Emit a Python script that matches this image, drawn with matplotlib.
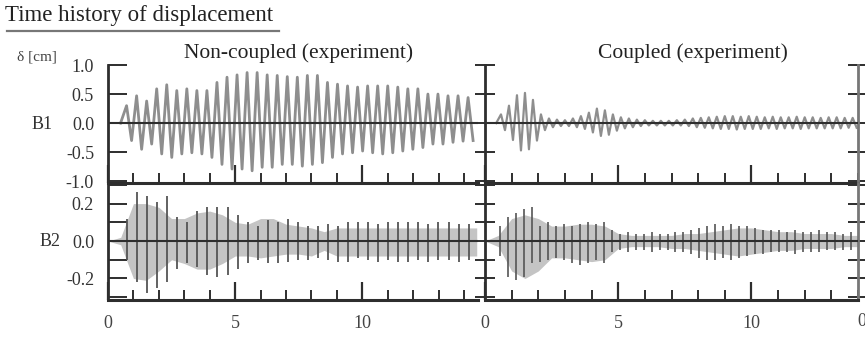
import matplotlib
matplotlib.use("Agg")
import matplotlib.pyplot as plt
from matplotlib.lines import Line2D
import numpy as np

plt.rcParams["font.family"] = ["Liberation Serif", "DejaVu Serif"]
plt.rcParams["axes.unicode_minus"] = False

# ---- data ----
# B1 non-coupled: positive / negative peak amplitude of each cycle (cm)
b1_nc_start = 0.73      # time of first positive peak (s)
b1_nc_period = 0.395
b1_nc_pos = [0.30, 0.47, 0.38, 0.59, 0.66, 0.56, 0.59, 0.56, 0.56, 0.70, 0.79, 0.83,
             0.87, 0.87, 0.83, 0.82, 0.80, 0.79, 0.82, 0.82, 0.70, 0.67, 0.64, 0.62,
             0.64, 0.64, 0.64, 0.62, 0.59, 0.59, 0.50, 0.50, 0.47, 0.47, 0.44]
b1_nc_neg = [0.30, 0.45, 0.36, 0.53, 0.59, 0.53, 0.51, 0.53, 0.59, 0.71, 0.79, 0.79,
             0.82, 0.76, 0.76, 0.71, 0.71, 0.74, 0.71, 0.68, 0.59, 0.53, 0.51, 0.48,
             0.51, 0.53, 0.51, 0.48, 0.45, 0.42, 0.36, 0.36, 0.33, 0.31, 0.30]

# B1 coupled
b1_c_start = 0.6
b1_c_period = 0.3
b1_c_pos = [0.15, 0.30, 0.48, 0.52, 0.40, 0.15, 0.08, 0.06, 0.05, 0.08, 0.12, 0.18,
            0.25, 0.22, 0.15, 0.10, 0.08, 0.06, 0.05, 0.04, 0.04, 0.04, 0.05, 0.06,
            0.08, 0.09, 0.10, 0.11, 0.12, 0.12, 0.11, 0.12, 0.11, 0.10, 0.11, 0.10,
            0.10, 0.11, 0.10, 0.10, 0.09, 0.10, 0.10, 0.09, 0.09]
b1_c_neg = [0.12, 0.29, 0.47, 0.45, 0.30, 0.12, 0.07, 0.05, 0.05, 0.07, 0.10, 0.16,
            0.22, 0.20, 0.13, 0.09, 0.07, 0.05, 0.04, 0.04, 0.04, 0.04, 0.04, 0.05,
            0.07, 0.08, 0.09, 0.10, 0.10, 0.11, 0.10, 0.10, 0.10, 0.09, 0.10, 0.09,
            0.09, 0.10, 0.09, 0.09, 0.09, 0.09, 0.09, 0.08, 0.08]

# B2: envelope of the dense high-frequency band, sampled every 0.5 s
band_t = np.arange(0, 14.6, 0.5)
b2_nc_band_hi = [0, 0.02, 0.20, 0.20, 0.18, 0.12, 0.12, 0.15, 0.16, 0.14, 0.10, 0.09,
                 0.12, 0.12, 0.09, 0.08, 0.07, 0.05, 0.07, 0.07, 0.07, 0.07, 0.07, 0.07,
                 0.07, 0.07, 0.07, 0.07, 0.07, 0.07]
b2_nc_band_lo = [0, -0.02, -0.20, -0.21, -0.16, -0.10, -0.12, -0.15, -0.15, -0.12, -0.08,
                 -0.08, -0.09, -0.08, -0.07, -0.07, -0.08, -0.05, -0.08, -0.08, -0.08,
                 -0.08, -0.08, -0.08, -0.08, -0.08, -0.08, -0.08, -0.08, -0.08]
b2_c_band_hi = [0, 0.03, 0.12, 0.14, 0.12, 0.08, 0.08, 0.09, 0.09, 0.08, 0.04, 0.03,
                0.03, 0.03, 0.03, 0.04, 0.04, 0.05, 0.06, 0.07, 0.07, 0.06, 0.05, 0.05,
                0.04, 0.04, 0.04, 0.03, 0.03, 0.03]
b2_c_band_lo = [0, -0.03, -0.16, -0.20, -0.16, -0.09, -0.09, -0.10, -0.11, -0.10, -0.04,
                -0.03, -0.03, -0.03, -0.04, -0.04, -0.05, -0.06, -0.07, -0.08, -0.07,
                -0.06, -0.05, -0.05, -0.04, -0.04, -0.04, -0.03, -0.03, -0.03]

# B2: dark low-frequency swings (top / bottom of each swing)
b2_nc_start = 0.75
b2_nc_period = 0.395
b2_nc_top = [0.12, 0.26, 0.24, 0.21, 0.24, 0.13, 0.10, 0.16, 0.18, 0.18, 0.18, 0.14,
             0.10, 0.08, 0.11, 0.10, 0.12, 0.10, 0.08, 0.08, 0.09, 0.08, 0.10, 0.10,
             0.10, 0.09, 0.10, 0.10, 0.10, 0.10, 0.09, 0.10, 0.10, 0.09, 0.09]
b2_nc_bot = [-0.10, -0.22, -0.28, -0.25, -0.22, -0.15, -0.12, -0.14, -0.18, -0.19, -0.18,
             -0.15, -0.12, -0.10, -0.12, -0.12, -0.11, -0.10, -0.10, -0.09, -0.10, -0.11,
             -0.11, -0.09, -0.10, -0.11, -0.10, -0.11, -0.11, -0.10, -0.11, -0.10, -0.10,
             -0.11, -0.10]
b2_c_start = 0.55
b2_c_period = 0.3
b2_c_top = [0.08, 0.13, 0.15, 0.17, 0.18, 0.08, 0.10, 0.08, 0.09, 0.08, 0.09, 0.10,
            0.09, 0.10, 0.06, 0.04, 0.05, 0.04, 0.04, 0.05, 0.04, 0.04, 0.05, 0.05,
            0.06, 0.07, 0.08, 0.09, 0.08, 0.09, 0.08, 0.08, 0.07, 0.06, 0.06, 0.06,
            0.05, 0.06, 0.05, 0.05, 0.06, 0.05, 0.05, 0.04, 0.05]
b2_c_bot = [-0.08, -0.19, -0.21, -0.19, -0.12, -0.11, -0.10, -0.09, -0.10, -0.12, -0.13,
            -0.12, -0.10, -0.12, -0.06, -0.05, -0.06, -0.05, -0.05, -0.06, -0.05, -0.05,
            -0.06, -0.06, -0.07, -0.09, -0.10, -0.10, -0.09, -0.10, -0.09, -0.08, -0.07,
            -0.07, -0.06, -0.06, -0.06, -0.07, -0.06, -0.06, -0.06, -0.05, -0.05, -0.05,
            -0.05]

col_titles = ["Non-coupled (experiment)", "Coupled (experiment)"]
row_labels = ["B1", "B2"]
x_ticks = [0, 5, 10]

grey = "#8e8e8e"
dark = "#2e2e2e"


def zigzag(start, period, pos, neg):
    # alternate positive and negative peaks along the time axis
    t = [start - period * 0.6]
    y = [0.0]
    for k in range(len(pos)):
        t += [start + k * period, start + (k + 0.5) * period]
        y += [pos[k], -neg[k]]
    return t, y


fig = plt.figure(figsize=(8.65, 3.39), dpi=100)

W, H = 865.0, 339.0
col_x = [(108, 478), (485, 858)]
row_y = [(65, 183), (183, 300)]
title_x = [299, 693]
xlims = [(0, 14.55), (0, 13.9)]
ylims = [(-1.03, 1.0), (-0.315, 0.31)]

axes = {}
for r in range(2):
    for c in range(2):
        x0, x1 = col_x[c]
        y0, y1 = row_y[r]
        ax = fig.add_axes([x0 / W, 1 - y1 / H, (x1 - x0) / W, (y1 - y0) / H])
        axes[r, c] = ax
        ax.set_xlim(*xlims[c])
        ax.set_ylim(*ylims[r])
        ax.patch.set_alpha(0)
        for s in ["top", "right"]:
            ax.spines[s].set_visible(False)
        ax.spines["left"].set_linewidth(2.0)
        ax.spines["bottom"].set_linewidth(2.2)
        ax.spines["left"].set_color(dark)
        ax.spines["bottom"].set_color(dark)
        ax.axhline(0, color=dark, lw=1.5, zorder=3)

        ax.set_xticks(x_ticks)
        ax.set_xticks(np.arange(0, 15, 1), minor=True)
        ax.tick_params(axis="x", which="major", direction="in", length=13, width=1.6,
                       color=dark, pad=11, labelsize=13, labelcolor="#444444")
        ax.tick_params(axis="x", which="minor", direction="in", length=7, width=1.4,
                       color=dark)
        if r == 0:
            ax.set_yticks([-1.0, -0.5, 0.0, 0.5, 1.0])
            ax.tick_params(axis="x", labelbottom=False)
        else:
            ax.set_yticks([-0.2, 0.0, 0.2])
            ax.set_yticks([-0.3, -0.1, 0.1, 0.3], minor=True)
        ax.yaxis.set_major_formatter(plt.FormatStrFormatter("%.1f"))
        ydir = "in" if c == 0 else "inout"
        ax.tick_params(axis="y", which="both", direction=ydir, length=14, width=1.4,
                       color=dark, pad=10, labelsize=13, labelcolor="#333333")
        if c == 1:
            ax.tick_params(axis="y", labelleft=False, right=True, which="both")
            ax.spines["right"].set_visible(True)
            ax.spines["right"].set_linewidth(2.0)
            ax.spines["right"].set_color("#777777")

# B1 rows
t, y = zigzag(b1_nc_start, b1_nc_period, b1_nc_pos, b1_nc_neg)
axes[0, 0].plot(t, y, color=grey, lw=2.0, zorder=2)
t, y = zigzag(b1_c_start, b1_c_period, b1_c_pos, b1_c_neg)
axes[0, 1].plot(t, y, color=grey, lw=1.6, zorder=2)

# B2 rows
axes[1, 0].fill_between(band_t, b2_nc_band_lo, b2_nc_band_hi, color="#c4c4c4", lw=0, zorder=1)
tt = b2_nc_start + b2_nc_period * np.arange(len(b2_nc_top))
axes[1, 0].vlines(tt, b2_nc_bot, b2_nc_top, color="#555555", lw=1.3, zorder=2)
axes[1, 1].fill_between(band_t, b2_c_band_lo, b2_c_band_hi, color="#c4c4c4", lw=0, zorder=1)
tt = b2_c_start + b2_c_period * np.arange(len(b2_c_top))
axes[1, 1].vlines(tt, b2_c_bot, b2_c_top, color="#555555", lw=1.2, zorder=2)

# titles and labels
for c in range(2):
    fig.text(title_x[c] / W, 1 - 53 / H, col_titles[c],
             ha="center", va="center", fontsize=15.5, color="#222222")
fig.text(42 / W, 1 - 124 / H, row_labels[0], ha="center", va="center", fontsize=13,
         color="#333333")
fig.text(50 / W, 1 - 241 / H, row_labels[1], ha="center", va="center", fontsize=13,
         color="#333333")
fig.text(17 / W, 1 - 57 / H, "δ [cm]", ha="left", va="center", fontsize=11, color="#444444")
fig.text(862 / W, 1 - 322 / H, "0", ha="center", va="center", fontsize=13, color="#444444")

fig.text(5 / W, 1 - 16 / H, "Time history of displacement", ha="left", va="center",
         fontsize=16.5, color="#222222")
fig.add_artist(Line2D([7 / W, 279 / W], [1 - 31 / H, 1 - 31 / H], color="#777777", lw=1.6))

fig.savefig("out.png", dpi=100, facecolor="white")
